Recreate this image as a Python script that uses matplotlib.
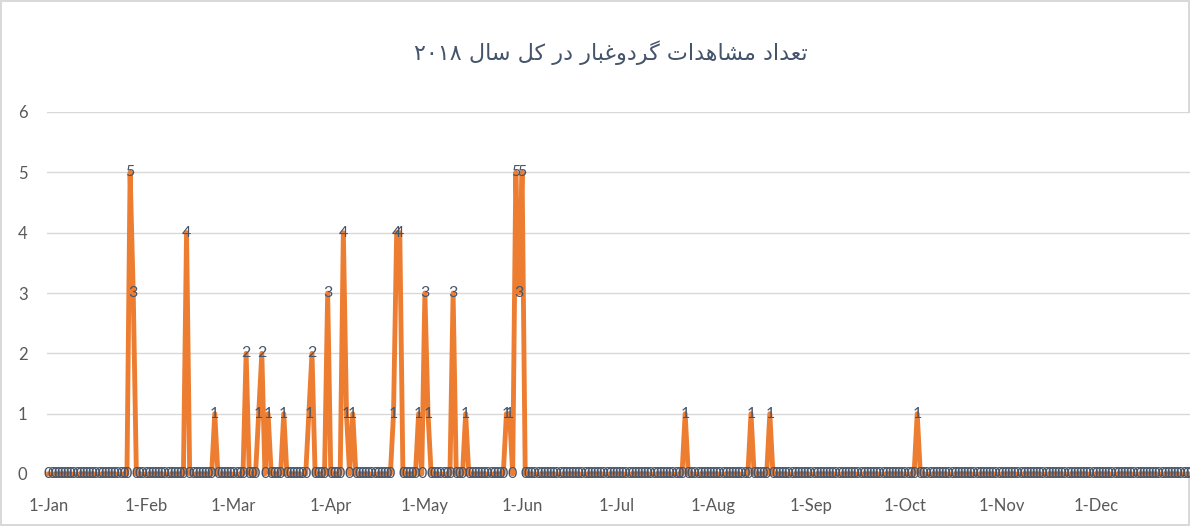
import matplotlib
matplotlib.use("Agg")
import matplotlib.pyplot as plt
import matplotlib.dates as mdates
import pandas as pd

# dust observations per day in 2018 (all other days are 0)
dust_dates = ["2018-01-27", "2018-01-28", "2018-02-14", "2018-02-23", "2018-03-05",
              "2018-03-09", "2018-03-10", "2018-03-12", "2018-03-17", "2018-03-25",
              "2018-03-26", "2018-03-31", "2018-04-05", "2018-04-06", "2018-04-08",
              "2018-04-21", "2018-04-22", "2018-04-23", "2018-04-29", "2018-05-01",
              "2018-05-02", "2018-05-10", "2018-05-14", "2018-05-27", "2018-05-28",
              "2018-05-30", "2018-05-31", "2018-06-01", "2018-07-23", "2018-08-13",
              "2018-08-19", "2018-10-05"]
dust_counts = [5, 3, 4, 1, 2,
               1, 2, 1, 1, 1,
               2, 3, 4, 1, 1,
               1, 4, 4, 1, 3,
               1, 3, 1, 1, 1,
               5, 3, 5, 1, 1,
               1, 1]
title = "تعداد مشاهدات گردوغبار در کل سال ۲۰۱۸"

# matplotlib has no arabic shaping, so pick the joined forms by hand
FORMS = {  # isolated, final, initial, medial
    "ت": "\uFE95\uFE96\uFE97\uFE98", "ع": "\uFEC9\uFECA\uFECB\uFECC",
    "د": "\uFEA9\uFEAA", "ا": "\uFE8D\uFE8E", "م": "\uFEE1\uFEE2\uFEE3\uFEE4",
    "ش": "\uFEB5\uFEB6\uFEB7\uFEB8", "ه": "\uFEE9\uFEEA\uFEEB\uFEEC",
    "گ": "\uFB92\uFB93\uFB94\uFB95", "ر": "\uFEAD\uFEAE", "و": "\uFEED\uFEEE",
    "غ": "\uFECD\uFECE\uFECF\uFED0", "ب": "\uFE8F\uFE90\uFE91\uFE92",
    "ک": "\uFB8E\uFB8F\uFB90\uFB91", "ل": "\uFEDD\uFEDE\uFEDF\uFEE0",
    "س": "\uFEB1\uFEB2\uFEB3\uFEB4",
}

def shape_word(w):
    if w[0] not in FORMS:
        return w
    out = []
    for i, ch in enumerate(w):
        f = FORMS[ch]
        prev_joins = i > 0 and len(FORMS[w[i - 1]]) == 4
        next_joins = i < len(w) - 1 and len(f) == 4
        if prev_joins and next_joins:
            out.append(f[3])
        elif prev_joins:
            out.append(f[1])
        elif next_joins:
            out.append(f[2])
        else:
            out.append(f[0])
    return "".join(reversed(out))

def rtl(text):
    return " ".join(shape_word(w) for w in reversed(text.split()))

days = pd.date_range("2018-01-01", "2018-12-31", freq="D")
series = pd.Series(0, index=days)
series[pd.to_datetime(dust_dates)] = dust_counts

fig = plt.figure(figsize=(11.9, 5.26), dpi=100)
fig.patch.set_edgecolor("#D9D9D9")
fig.patch.set_linewidth(1.5)
ax = fig.add_axes([47 / 1190, 52 / 526, 1144.6 / 1190, 362 / 526])

ax.plot(series.index, series.values, color="#ED7D31", lw=3.5, clip_on=False, zorder=3)
for d, v in series.items():
    ax.text(d, v, str(v), ha="center", va="center", fontsize=11.5, color="#44546A",
            family="Lato", zorder=4, clip_on=False)

ax.set_ylim(0, 6)
ax.set_xlim(days[0] - pd.Timedelta(hours=12), days[-1] + pd.Timedelta(hours=12))
ax.yaxis.grid(True, color="#D9D9D9", lw=1)
ax.set_axisbelow(True)
for s in ax.spines.values():
    s.set_visible(False)
ax.xaxis.set_major_locator(mdates.MonthLocator())
ax.xaxis.set_major_formatter(mdates.DateFormatter("%-d-%b"))
ax.tick_params(length=0, labelsize=12, labelcolor="#595959")
ax.tick_params(axis="x", pad=17)
ax.tick_params(axis="y", pad=14)
for lbl in ax.get_xticklabels() + ax.get_yticklabels():
    lbl.set_family("Lato")

fig.text(0.513, 0.9, rtl(title), ha="center", va="center", fontsize=16,
         color="#44546A", family="DejaVu Sans")

fig.savefig("out.png", dpi=100, edgecolor=fig.get_edgecolor())
